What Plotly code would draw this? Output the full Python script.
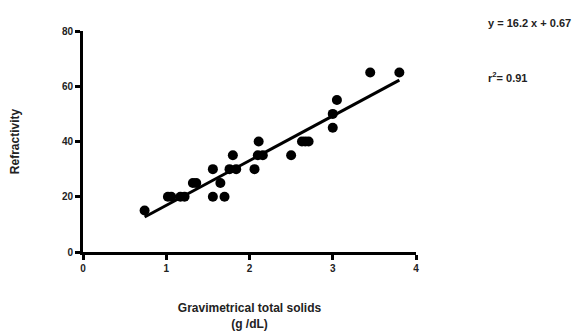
import plotly.graph_objects as go

gts = [0.74, 1.02, 1.06, 1.17, 1.22, 1.32, 1.36, 1.56, 1.56, 1.65, 1.70, 1.76, 1.80, 1.84,
       2.06, 2.10, 2.11, 2.16, 2.50, 2.63, 2.67, 2.71, 3.00, 3.00, 3.05, 3.45, 3.80]
refr = [15, 20, 20, 20, 20, 25, 25, 30, 20, 25, 20, 30, 35, 30,
        30, 35, 40, 35, 35, 40, 40, 40, 50, 45, 55, 65, 65]
slope = 16.2
intercept = 0.67

fit_x = [min(gts), max(gts)]
fit_y = [slope * v + intercept for v in fit_x]

font = "Liberation Sans, Arial, sans-serif"
txt = "#222222"

fig = go.Figure()
fig.add_trace(go.Scatter(x=gts, y=refr, mode="markers",
                         marker=dict(color="black", size=10, line=dict(width=0)),
                         showlegend=False, cliponaxis=False))
fig.add_trace(go.Scatter(x=fit_x, y=fit_y, mode="lines",
                         line=dict(color="black", width=3),
                         showlegend=False))

axis_common = dict(showgrid=False, zeroline=False, showline=True, linecolor="black",
                   linewidth=3, ticks="outside", ticklen=5, tickwidth=3, tickcolor="black",
                   automargin=False,
                   tickfont=dict(family=font, size=10, color=txt, weight="bold"))

fig.update_layout(
    width=577, height=334,
    margin=dict(l=83, r=161, t=31, b=82),
    plot_bgcolor="white", paper_bgcolor="white",
    font=dict(family=font, color=txt),
    xaxis=dict(range=[0, 4], tickvals=[0, 1, 2, 3, 4], **axis_common,
               title=dict(text="<b>Gravimetrical total solids<br>(g /dL)</b>",
                          font=dict(family=font, size=12, color=txt), standoff=31)),
    yaxis=dict(range=[0, 80], tickvals=[0, 20, 40, 60, 80], **axis_common,
               title=dict(text="<b>Refractivity</b>",
                          font=dict(family=font, size=12, color=txt), standoff=40)),
    annotations=[
        dict(text="<b>y = 16.2 x + 0.67</b>", xref="paper", yref="paper",
             x=(486 - 83) / 333, y=(252 - 23) / 221, xanchor="left", yanchor="middle",
             showarrow=False, font=dict(family=font, size=11, color=txt)),
        dict(text="<b>r<sup>2</sup>= 0.91</b>", xref="paper", yref="paper",
             x=(486 - 83) / 333, y=(252 - 77) / 221, xanchor="left", yanchor="middle",
             showarrow=False, font=dict(family=font, size=11, color=txt)),
    ],
)

fig.write_html("out.html")
